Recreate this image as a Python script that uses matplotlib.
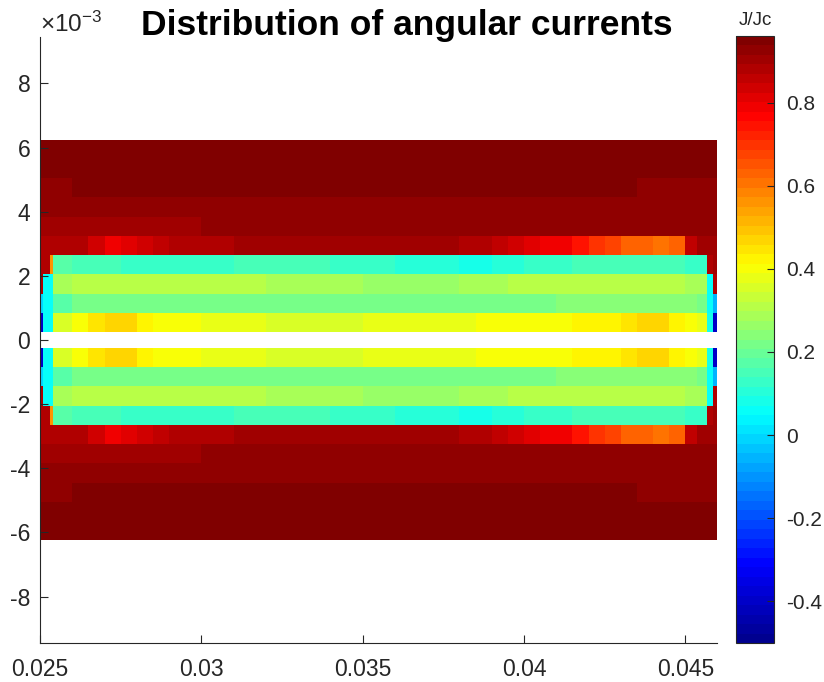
import numpy as np
import matplotlib
matplotlib.use("Agg")
import matplotlib.pyplot as plt
from matplotlib.colors import LinearSegmentedColormap

plt.rcParams['font.family'] = ['Liberation Sans', 'DejaVu Sans']
plt.rcParams['mathtext.fontset'] = 'custom'
plt.rcParams['mathtext.rm'] = 'Liberation Sans'

# column edges along x (m)
x_edges = [0.0250, 0.0251, 0.0253, 0.0254, 0.0260, 0.0265, 0.0270, 0.0275, 0.0280,
           0.0285, 0.0290, 0.0295, 0.0300, 0.0310, 0.0320, 0.0330, 0.0340, 0.0350,
           0.0360, 0.0370, 0.0380, 0.0385, 0.0390, 0.0395, 0.0400, 0.0405, 0.0410,
           0.0415, 0.0420, 0.0425, 0.0430, 0.0435, 0.0440, 0.0445, 0.0450, 0.04535,
           0.04567, 0.04587, 0.04598]

# row edges of the upper half (x 1e-3 m); lower half is the mirror image
y_edges_top = [0.25, 0.85, 1.45, 2.05, 2.65, 3.25, 3.85, 4.45, 5.05, 5.65, 6.25]

# J/Jc per row, from the centre line outwards
row_1 = [-0.40, 0.05, 0.05, 0.35, 0.40, 0.44, 0.46, 0.46, 0.43, 0.41, 0.40, 0.39,
         0.38, 0.37, 0.36, 0.36, 0.36, 0.37, 0.37, 0.37,
         0.38, 0.39, 0.39, 0.40, 0.40, 0.41, 0.41, 0.42,
         0.43, 0.43, 0.44, 0.46, 0.46, 0.43, 0.40, 0.37, 0.08, -0.40]
row_2 = [-0.02, 0.05, 0.05, 0.18, 0.22, 0.22, 0.22, 0.22, 0.22, 0.22, 0.22, 0.22,
         0.21, 0.21, 0.21, 0.21, 0.21, 0.21, 0.21, 0.21,
         0.22, 0.22, 0.22, 0.22, 0.22, 0.22, 0.23, 0.23,
         0.24, 0.24, 0.24, 0.24, 0.24, 0.24, 0.23, 0.21, 0.05, -0.05]
row_3 = [0.88, 0.05, 0.05, 0.28, 0.30, 0.31, 0.32, 0.32, 0.32, 0.32, 0.32, 0.31,
         0.31, 0.30, 0.29, 0.28, 0.28, 0.27, 0.27, 0.27,
         0.28, 0.28, 0.29, 0.30, 0.31, 0.31, 0.31, 0.32,
         0.32, 0.32, 0.32, 0.32, 0.31, 0.30, 0.29, 0.28, 0.06, 0.88]
row_4 = [0.88, 0.88, 0.55, 0.18, 0.15, 0.14, 0.14, 0.13, 0.13, 0.13, 0.13, 0.13,
         0.13, 0.14, 0.14, 0.14, 0.13, 0.12, 0.11, 0.10,
         0.09, 0.09, 0.10, 0.11, 0.12, 0.13, 0.13, 0.14,
         0.15, 0.16, 0.16, 0.16, 0.16, 0.14, 0.13, 0.13, 0.88, 0.90]
row_5 = [0.89, 0.89, 0.89, 0.89, 0.88, 0.84, 0.80, 0.81, 0.83, 0.86, 0.87, 0.88,
         0.89, 0.90, 0.90, 0.90, 0.90, 0.90, 0.90, 0.90,
         0.88, 0.87, 0.86, 0.84, 0.82, 0.80, 0.78, 0.74,
         0.70, 0.67, 0.64, 0.62, 0.60, 0.63, 0.86, 0.90, 0.90, 0.91]
row_6 = [0.91, 0.91, 0.91, 0.91, 0.91, 0.91, 0.91, 0.91, 0.91, 0.91, 0.91, 0.91,
         0.93, 0.93, 0.93, 0.93, 0.93, 0.93, 0.93, 0.93,
         0.92, 0.92, 0.92, 0.92, 0.92, 0.92, 0.92, 0.92,
         0.92, 0.92, 0.92, 0.92, 0.92, 0.92, 0.92, 0.92, 0.92, 0.92]
row_7 = [0.92, 0.92, 0.92, 0.92, 0.93, 0.93, 0.93, 0.93, 0.93, 0.93, 0.93, 0.93,
         0.93, 0.93, 0.93, 0.93, 0.93, 0.93, 0.93, 0.93,
         0.93, 0.93, 0.93, 0.93, 0.93, 0.93, 0.93, 0.93,
         0.93, 0.93, 0.93, 0.93, 0.93, 0.93, 0.93, 0.93, 0.93, 0.93]
row_8 = [0.93, 0.93, 0.93, 0.93, 0.95, 0.95, 0.95, 0.95, 0.95, 0.95, 0.95, 0.95,
         0.95, 0.95, 0.95, 0.95, 0.95, 0.95, 0.95, 0.95,
         0.95, 0.95, 0.95, 0.95, 0.95, 0.95, 0.95, 0.95,
         0.95, 0.95, 0.95, 0.935, 0.935, 0.935, 0.935, 0.935, 0.935, 0.935]
row_9 = [0.96, 0.96, 0.96, 0.96, 0.96, 0.96, 0.96, 0.96, 0.96, 0.96, 0.96, 0.96,
         0.96, 0.96, 0.96, 0.96, 0.96, 0.96, 0.96, 0.96,
         0.96, 0.96, 0.96, 0.96, 0.96, 0.96, 0.96, 0.96,
         0.96, 0.96, 0.96, 0.96, 0.96, 0.96, 0.96, 0.96, 0.96, 0.96]
row_10 = [0.96, 0.96, 0.96, 0.96, 0.96, 0.96, 0.96, 0.96, 0.96, 0.96, 0.96, 0.96,
          0.96, 0.96, 0.96, 0.96, 0.96, 0.96, 0.96, 0.96,
          0.96, 0.96, 0.96, 0.96, 0.96, 0.96, 0.96, 0.96,
          0.96, 0.96, 0.96, 0.96, 0.96, 0.96, 0.96, 0.96, 0.96, 0.96]

x_ticks = [0.025, 0.03, 0.035, 0.04, 0.045]
x_tick_labels = ['0.025', '0.03', '0.035', '0.04', '0.045']
y_ticks = [-8, -6, -4, -2, 0, 2, 4, 6, 8]
y_tick_labels = ['-8', '-6', '-4', '-2', '0', '2', '4', '6', '8']
cb_ticks = [-0.4, -0.2, 0, 0.2, 0.4, 0.6, 0.8]
cb_tick_labels = ['-0.4', '-0.2', '0', '0.2', '0.4', '0.6', '0.8']

# assemble the full grid: mirrored lower half, empty gap, upper half
upper = np.array([row_1, row_2, row_3, row_4, row_5, row_6, row_7, row_8, row_9, row_10])
gap = np.full((1, upper.shape[1]), np.nan)
J = np.ma.masked_invalid(np.vstack([upper[::-1], gap, upper]))
y_edges = np.concatenate([-np.array(y_edges_top[::-1]), y_edges_top]) * 1e-3

# MATLAB-style jet, 64 levels
jet_m = LinearSegmentedColormap.from_list(
    'jet_m', [(0, (0, 0, 0.5625)), (0.125, (0, 0, 1)), (0.375, (0, 1, 1)),
              (0.625, (1, 1, 0)), (0.875, (1, 0, 0)), (1, (0.5, 0, 0))], N=64)

W, H = 824, 682
fig = plt.figure(figsize=(W / 100, H / 100), dpi=100)
ax = fig.add_axes([40 / W, 1 - 643 / H, 677 / W, 606 / H])

mesh = ax.pcolormesh(x_edges, y_edges, J, cmap=jet_m, vmin=-0.5, vmax=0.96)

ax.set_xlim(0.025, 0.04598)
ax.set_ylim(-9.45e-3, 9.45e-3)
ax.set_xticks(x_ticks)
ax.set_xticklabels(x_tick_labels)
ax.set_yticks(np.array(y_ticks) * 1e-3)
ax.set_yticklabels(y_tick_labels)

dark = '#262626'
ax.tick_params(direction='in', length=6, width=0.8, colors=dark, labelsize=16.5)
ax.tick_params(axis='x', pad=11)
ax.tick_params(axis='y', pad=7)
for s in ['top', 'right']:
    ax.spines[s].set_visible(False)
for s in ['left', 'bottom']:
    ax.spines[s].set_color(dark)
    ax.spines[s].set_linewidth(0.8)

cax = fig.add_axes([736 / W, 1 - 643 / H, 38 / W, 607 / H])
cb = fig.colorbar(mesh, cax=cax, ticks=cb_ticks)
cb.ax.set_yticklabels(cb_tick_labels)
cb.ax.tick_params(direction='in', length=5, width=0.8, colors=dark, labelsize=15, pad=9)
cb.outline.set_linewidth(0.8)
cb.outline.set_edgecolor(dark)

fig.text(407 / W, 1 - 35 / H, 'Distribution of angular currents', ha='center',
         va='baseline', fontsize=25.5, fontweight='bold', color='black')
fig.text(755 / W, 1 - 25 / H, 'J/Jc', ha='center', va='baseline', fontsize=13.5, color=dark)
fig.text(40 / W, 1 - 32 / H, r'$\mathregular{\times10^{-3}}$', ha='left', va='baseline',
         fontsize=17.5, color=dark)

fig.savefig('out.png', dpi=100)
